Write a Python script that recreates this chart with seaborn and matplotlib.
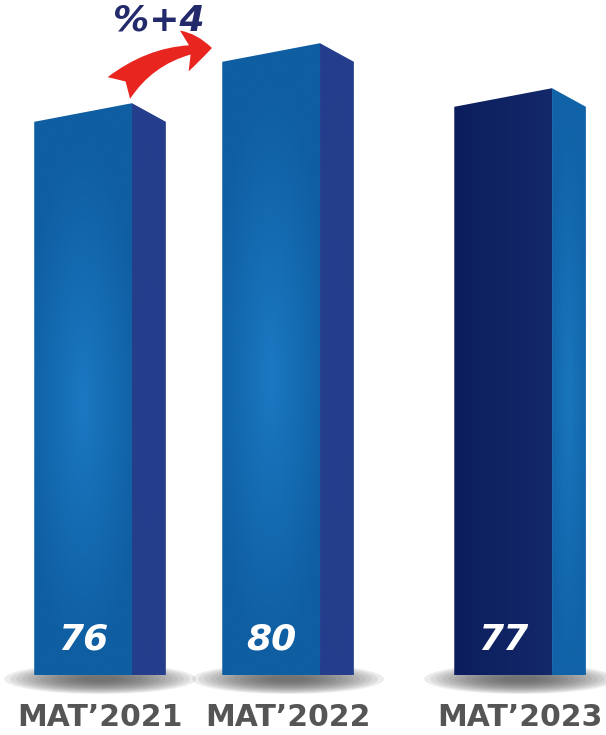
import numpy as np
import pandas as pd
import matplotlib
matplotlib.use("Agg")
import matplotlib.pyplot as plt
import seaborn as sns
from matplotlib.patches import Polygon, Ellipse, FancyArrowPatch
from matplotlib.colors import to_rgb

# ---- data ----
categories = ["MAT\u20192021", "MAT\u20192022", "MAT\u20192023"]
values = [76, 80, 77]
value_labels = ["76", "80", "77"]
change_label = "%+4"

# ---- layout (not data) ----
positions = [0.0, 1.0, 2.234]
BASE = 38.5
A = 15.0           # pixels per value unit
FRONT_W = 0.52
DEPTH = 0.18
SLANT = 0.62

front_edge = ["#0f5ea2", "#0f5ea2", "#14296a"]
front_center = ["#1b79c2", "#1b79c2", "#0b1d5d"]
side_edge = ["#243e8c", "#243e8c", "#1163a8"]
side_center = ["#253f8e", "#253f8e", "#1a77bd"]

sns.set_theme(style="white")
fig = plt.figure(figsize=(6.06, 7.35), dpi=100)
ax = fig.add_axes([0, 0, 1, 1])

df = pd.DataFrame({"pos": positions, "value": values, "cat": categories})
sns.barplot(data=df, x="pos", y="value", native_scale=True, width=FRONT_W,
            color="#0d5a9b", ax=ax, zorder=2)

# pixel y = 675 - A*(v - BASE)
ax.set_xlim(-0.532, 2.691)
ax.set_ylim(BASE - 60 / A, BASE + 675 / A)
ax.axis("off")


def grad_image(c_edge, c_center, radial=True):
    ny, nx = 200, 80
    xs = np.linspace(-1, 1, nx)
    ys = np.linspace(-1, 1, ny)
    X, Y = np.meshgrid(xs, ys)
    if radial:
        r = np.clip(np.sqrt((X * 0.8) ** 2 + ((Y + 0.05) * 1.1) ** 2), 0, 1)
        t = (1 - r)[..., None] ** 1.1
    else:
        t = ((1 - X) / 2)[..., None]
    ce, cc = np.array(to_rgb(c_edge)), np.array(to_rgb(c_center))
    return ce * (1 - t) + cc * t


for i, bar in enumerate(ax.patches):
    v = values[i]
    bar.set_facecolor("none")
    bar.set_edgecolor("none")
    xl = bar.get_x() - DEPTH / 2
    xr = xl + FRONT_W
    xs_ = xr + DEPTH
    cx = xl + (FRONT_W + DEPTH) / 2
    # shadow
    for k in range(14):
        f = 1 - k / 16
        ax.add_patch(Ellipse((cx, BASE - 4 / A), 1.02 * f, (30 / A) * f,
                             facecolor="#565656", edgecolor="none",
                             alpha=0.11, zorder=1))
    # front face
    front = Polygon([(xl, BASE), (xr, BASE), (xr, v + SLANT), (xl, v - SLANT)],
                    closed=True, facecolor="none", edgecolor="none", zorder=2)
    ax.add_patch(front)
    img = grad_image(front_edge[i], front_center[i], radial=(i < 2))
    im = ax.imshow(img, extent=(xl, xr, BASE, v + SLANT), origin="lower",
                   aspect="auto", zorder=2, interpolation="bilinear")
    im.set_clip_path(front)
    # side face
    side = Polygon([(xr, BASE), (xs_, BASE), (xs_, v - SLANT), (xr, v + SLANT)],
                   closed=True, facecolor="none", edgecolor="none", zorder=2)
    ax.add_patch(side)
    img2 = grad_image(side_edge[i], side_center[i], radial=True)
    im2 = ax.imshow(img2, extent=(xr, xs_, BASE, v + SLANT), origin="lower",
                    aspect="auto", zorder=2, interpolation="bilinear")
    im2.set_clip_path(side)
    # value label
    ax.text((xl + xr) / 2, BASE + 35 / A, value_labels[i], color="white",
            fontsize=26, fontweight="bold", fontstyle="italic",
            family=["DejaVu Sans"],
            ha="center", va="center", zorder=3)
    # category label
    ax.text(cx, BASE - 43 / A, categories[i], color="#555555", fontsize=21.5,
            fontweight="bold", family=["DejaVu Sans"],
            ha="center", va="center", zorder=3)

# change annotation
arrow = FancyArrowPatch((0.09, BASE + 585 / A), (0.61, BASE + 627 / A),
                        connectionstyle="arc3,rad=-0.22",
                        arrowstyle="fancy,head_length=0.8,head_width=1.2,tail_width=0.9",
                        mutation_scale=25, facecolor="#e8251f", edgecolor="none",
                        zorder=4)
ax.add_patch(arrow)
ax.text(0.31, BASE + 655 / A, change_label, color="#232a6b", fontsize=26,
        fontweight="bold", fontstyle="italic", family=["DejaVu Sans"],
        ha="center", va="center", zorder=4)

fig.savefig("out.png", dpi=100, facecolor="white")
